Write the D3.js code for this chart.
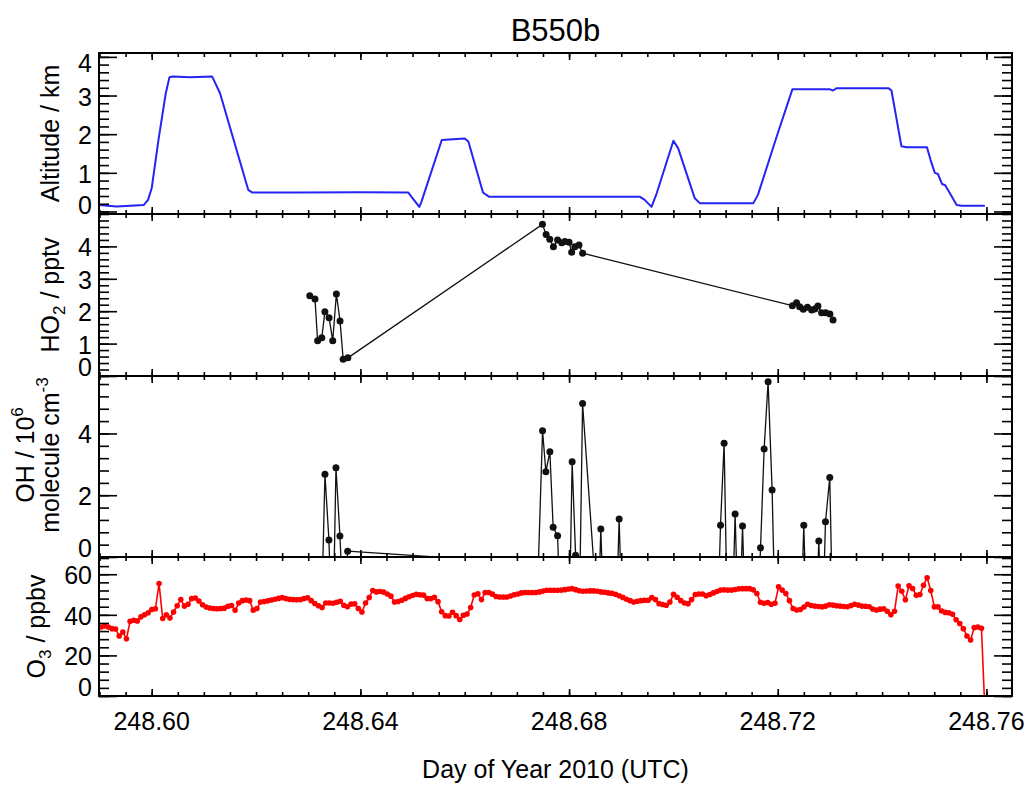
<!DOCTYPE html>
<html>
<head>
<meta charset="utf-8">
<script src="https://cdn.jsdelivr.net/npm/d3@7"></script>
<style>
  body { margin: 0; background: #fff; }
  svg { display: block; }
  text { font-family: "Liberation Sans", Arial, sans-serif; fill: #000; }
</style>
</head>
<body>
<svg id="chart" width="1032" height="785"></svg>
<script>
// Flight B550b: aircraft altitude, HO2, OH and O3 against day of year (UTC)

// Altitude track (day of year, km)
const altTime = [248.5899, 248.5933, 248.5985, 248.5993, 248.6000, 248.6013, 248.6027, 248.6034, 248.6041, 248.6073,
  248.6116, 248.6131, 248.6185, 248.6193, 248.6284, 248.6399, 248.6492, 248.6498, 248.6513, 248.6517,
  248.6556, 248.6600, 248.6607, 248.6635, 248.6647, 248.6936, 248.6945, 248.6958, 248.6968, 248.7000,
  248.7009, 248.7041, 248.7051, 248.7153, 248.7162, 248.7198, 248.7228, 248.7300, 248.7306, 248.7313,
  248.7412, 248.7418, 248.7437, 248.7447, 248.7486, 248.7493, 248.7501, 248.7507, 248.7515, 248.7521,
  248.7543, 248.7552, 248.7597];
const altKm = [0.17, 0.13, 0.17, 0.30, 0.60, 1.85, 3.06, 3.47, 3.49, 3.47,
  3.49, 3.06, 0.56, 0.49, 0.49, 0.50, 0.49, 0.38, 0.12, 0.25,
  1.85, 1.89, 1.81, 0.49, 0.38, 0.38, 0.30, 0.12, 0.47, 1.83,
  1.64, 0.34, 0.21, 0.21, 0.43, 1.94, 3.16, 3.16, 3.13, 3.19,
  3.19, 3.13, 1.69, 1.66, 1.66, 1.33, 1.00, 0.97, 0.71, 0.68,
  0.17, 0.15, 0.15];

// HO2 mixing ratio (pptv)
const ho2Time = [248.6303, 248.6313, 248.6318, 248.6326, 248.6332, 248.6340, 248.6347, 248.6354, 248.6361, 248.6367,
  248.6376, 248.6749, 248.6756, 248.6763, 248.6770, 248.6778, 248.6786, 248.6792, 248.6800, 248.6805,
  248.6811, 248.6819, 248.6826, 248.7228, 248.7236, 248.7242, 248.7249, 248.7257, 248.7265, 248.7271,
  248.7277, 248.7284, 248.7292, 248.7300, 248.7306];
const ho2Pptv = [2.48, 2.38, 1.09, 1.18, 1.98, 1.80, 1.09, 2.53, 1.70, 0.52,
  0.56, 4.68, 4.37, 4.22, 3.99, 4.20, 4.11, 4.15, 4.13, 3.82,
  3.99, 4.04, 3.79, 2.17, 2.26, 2.14, 2.06, 2.12, 2.04, 2.07,
  2.16, 1.95, 1.95, 1.91, 1.73];

// OH concentration (1e6 molecule cm-3); negative retrievals fall below the axis
const ohTime = [248.63240, 248.63321, 248.63397, 248.63468, 248.63532, 248.63608, 248.63681, 248.63756, 248.67412, 248.67492,
  248.67555, 248.67632, 248.67695, 248.67780, 248.67852, 248.67925, 248.67996, 248.68059, 248.68125, 248.68188,
  248.68259, 248.68481, 248.68538, 248.68609, 248.68680, 248.68889, 248.68960, 248.69031, 248.70832, 248.70903,
  248.70972, 248.71043, 248.71112, 248.71183, 248.71254, 248.71325, 248.71395, 248.71599, 248.71670, 248.71739,
  248.71815, 248.71892, 248.71963, 248.72428, 248.72499, 248.72570, 248.72716, 248.72787, 248.72848, 248.72915,
  248.72997, 248.73064];
const ohConc = [-3, 2.68, 0.55, -3, 2.89, 0.68, -2, 0.19, -0.22, 4.09,
  2.76, 3.41, 0.96, 0.69, -3, -3, -3, 3.08, 0.06, -3,
  4.97, -0.4, -3, 0.91, -3, -3, 1.23, -3, -3, 1.03,
  3.68, -3, -3, 1.39, -3, 1.00, -3, -3, 0.30, 3.50,
  5.67, 2.17, -3, -3, 1.03, -3, -3, 0.52, -3, 1.14,
  2.57, -3];

// O3 mixing ratio (ppbv), one-minute samples starting at o3Start
const o3Start = 248.5903;
const o3StepDays = 1 / 1440;
const o3Ppbv = [34.0, 34.5, 34.0, 33.2, 33.0, 29.6, 31.5, 28.2, 36.8, 37.3,
  37.0, 39.0, 40.0, 41.0, 42.6, 43.0, 55.4, 38.2, 40.0, 38.4,
  41.4, 44.5, 47.5, 44.3, 45.2, 48.0, 48.3, 46.8, 45.0, 43.8,
  43.4, 43.1, 43.0, 43.1, 43.3, 44.2, 44.6, 42.2, 45.8, 47.0,
  47.3, 47.0, 42.3, 43.1, 46.3, 46.6, 46.9, 47.3, 47.7, 48.1,
  48.5, 48.0, 47.6, 47.5, 47.4, 47.5, 48.0, 48.4, 47.0, 45.6,
  44.5, 43.6, 45.8, 45.8, 45.7, 46.2, 46.7, 44.7, 44.0, 45.3,
  45.4, 43.1, 41.4, 45.8, 48.5, 52.0, 51.3, 51.5, 51.2, 50.3,
  49.2, 46.3, 46.6, 47.2, 48.1, 48.9, 49.5, 50.1, 49.9, 49.7,
  48.0, 48.0, 48.6, 46.5, 41.5, 39.6, 39.4, 41.3, 39.6, 37.7,
  39.8, 40.4, 43.6, 49.8, 50.4, 47.5, 51.0, 51.0, 50.2, 49.0,
  48.8, 48.8, 48.8, 49.3, 49.9, 50.3, 50.8, 51.0, 51.0, 51.0,
  51.0, 51.3, 51.7, 52.1, 52.1, 52.1, 52.1, 52.2, 52.4, 52.7,
  52.9, 52.4, 51.9, 51.6, 51.7, 51.8, 51.8, 51.6, 51.3, 51.1,
  50.8, 50.6, 50.1, 49.4, 48.6, 47.7, 47.0, 46.3, 46.7, 47.0,
  47.2, 47.2, 48.5, 47.5, 45.5, 45.1, 44.7, 46.3, 50.1, 48.7,
  47.0, 45.8, 45.5, 47.5, 50.0, 50.3, 50.3, 49.4, 50.0, 50.8,
  51.5, 52.2, 52.3, 52.2, 52.2, 52.5, 52.8, 52.9, 52.9, 52.9,
  52.3, 50.5, 46.2, 45.7, 46.0, 45.2, 45.7, 53.8, 52.2, 50.5,
  47.0, 43.1, 42.4, 42.6, 43.8, 45.2, 44.6, 44.3, 44.1, 43.9,
  44.3, 45.0, 44.8, 44.5, 44.3, 44.1, 44.0, 44.6, 45.2, 44.8,
  44.3, 44.2, 44.0, 42.9, 42.4, 42.8, 43.0, 41.8, 40.0, 41.8,
  54.2, 51.6, 47.4, 54.3, 53.0, 49.6, 50.0, 54.6, 58.3, 52.0,
  43.9, 43.9, 41.9, 41.2, 41.0, 40.3, 37.6, 35.7, 33.2, 29.6,
  27.6, 33.7, 34.0, 33.4, -10];

// Axis tick labels
const xTickValues = [248.60, 248.64, 248.68, 248.72, 248.76];
const altTicks = [0, 1, 2, 3, 4];
const ho2Ticks = [0, 1, 2, 3, 4];
const ohTicks = [0, 2, 4];
const o3Ticks = [0, 20, 40, 60];

// ---------------------------------------------------------------------------
const svg = d3.select("#chart");
const left = 99, right = 1012;
const tickFont = 25;

const x = d3.scaleLinear().domain([248.5899, 248.7649]).range([left, right]);

const panels = [
  { id: "alt", top: 53,  bottom: 214, domain: [-0.065, 4.1], major: altTicks, minorStep: 0.2 },
  { id: "ho2", top: 214, bottom: 376, domain: [0, 5],        major: ho2Ticks, minorStep: 0.2 },
  { id: "oh",  top: 376, bottom: 557, domain: [0, 5.86],     major: ohTicks,  minorStep: 0.4 },
  { id: "o3",  top: 557, bottom: 696, domain: [0, 68.5],     major: o3Ticks,  minorStep: 4 }
];

function stepValues(d0, d1, step) {
  const out = [];
  for (let k = Math.ceil(d0 / step - 1e-9); k <= Math.floor(d1 / step + 1e-9); k++) out.push(+(k * step).toFixed(6));
  return out;
}

const xMinor = stepValues(x.domain()[0], x.domain()[1], 0.005);
const defs = svg.append("defs");

function styleAxis(sel) {
  sel.select(".domain").remove();
  sel.selectAll(".tick line").attr("stroke", "#000").attr("stroke-width", 1.6);
  sel.selectAll(".tick text").remove();
}

panels.forEach(p => {
  const y = d3.scaleLinear().domain(p.domain).range([p.bottom, p.top]);
  p.y = y;
  defs.append("clipPath").attr("id", "clip-" + p.id)
    .append("rect").attr("x", left).attr("y", p.top)
    .attr("width", right - left).attr("height", p.bottom - p.top);
  p.plot = svg.append("g").attr("clip-path", `url(#clip-${p.id})`);

  const yMinor = stepValues(p.domain[0], p.domain[1], p.minorStep);
  const axes = svg.append("g");
  // inward ticks on all four sides
  axes.append("g").attr("transform", `translate(${left},0)`)
    .call(d3.axisLeft(y).tickValues(yMinor).tickSize(-10)).call(styleAxis);
  axes.append("g").attr("transform", `translate(${left},0)`)
    .call(d3.axisLeft(y).tickValues(p.major).tickSize(-18)).call(styleAxis);
  axes.append("g").attr("transform", `translate(${right},0)`)
    .call(d3.axisRight(y).tickValues(yMinor).tickSize(-10)).call(styleAxis);
  axes.append("g").attr("transform", `translate(${right},0)`)
    .call(d3.axisRight(y).tickValues(p.major).tickSize(-18)).call(styleAxis);
  axes.append("g").attr("transform", `translate(0,${p.bottom})`)
    .call(d3.axisBottom(x).tickValues(xMinor).tickSize(-4)).call(styleAxis);
  axes.append("g").attr("transform", `translate(0,${p.bottom})`)
    .call(d3.axisBottom(x).tickValues(xTickValues).tickSize(-7)).call(styleAxis);
  axes.append("g").attr("transform", `translate(0,${p.top})`)
    .call(d3.axisTop(x).tickValues(xMinor).tickSize(-4)).call(styleAxis);
  axes.append("g").attr("transform", `translate(0,${p.top})`)
    .call(d3.axisTop(x).tickValues(xTickValues).tickSize(-7)).call(styleAxis);

  axes.append("rect").attr("x", left).attr("y", p.top)
    .attr("width", right - left).attr("height", p.bottom - p.top)
    .attr("fill", "none").attr("stroke", "#000").attr("stroke-width", 2);

  // y tick labels, kept inside the panel's vertical extent
  svg.append("g").selectAll("text").data(p.major).join("text")
    .attr("x", 92)
    .attr("y", v => Math.min(Math.max(y(v) + 1, p.top + 10), p.bottom - 9) + 9)
    .attr("text-anchor", "end")
    .style("font-size", tickFont + "px")
    .text(v => v);
});

const [pAlt, pHo2, pOh, pO3] = panels;

// Altitude
pAlt.plot.append("path")
  .datum(altTime.map((t, i) => ({ t, v: altKm[i] })))
  .attr("fill", "none").attr("stroke", "#2424f4").attr("stroke-width", 2)
  .attr("stroke-linejoin", "round")
  .attr("d", d3.line().x(d => x(d.t)).y(d => pAlt.y(d.v)));

// HO2 and OH: black lines with dots
function dotted(panel, times, vals, color, lineW, r) {
  const data = times.map((t, i) => ({ t, v: vals[i] }));
  panel.plot.append("path").datum(data)
    .attr("fill", "none").attr("stroke", color).attr("stroke-width", lineW)
    .attr("stroke-linejoin", "round")
    .attr("d", d3.line().x(d => x(d.t)).y(d => panel.y(d.v)));
  panel.plot.append("g").selectAll("circle").data(data).join("circle")
    .attr("cx", d => x(d.t)).attr("cy", d => panel.y(d.v)).attr("r", r)
    .attr("fill", color);
}
dotted(pHo2, ho2Time, ho2Pptv, "#111", 1.3, 3.5);
dotted(pOh, ohTime, ohConc, "#111", 1.3, 3.5);
dotted(pO3, o3Ppbv.map((v, i) => o3Start + i * o3StepDays), o3Ppbv, "#ff0000", 1.6, 2.8);

// x tick labels under the bottom panel
svg.append("g").selectAll("text").data(xTickValues).join("text")
  .attr("x", d => x(d)).attr("y", 730)
  .attr("text-anchor", "middle").style("font-size", tickFont + "px")
  .text(d => d.toFixed(2));

// Titles
svg.append("text").attr("x", (left + right) / 2).attr("y", 41)
  .attr("text-anchor", "middle").style("font-size", "31px").text("B550b");
svg.append("text").attr("x", (left + right) / 2).attr("y", 778)
  .attr("text-anchor", "middle").style("font-size", "25px").text("Day of Year 2010 (UTC)");

function yTitle(px, py, parts) {
  const t = svg.append("text").attr("transform", `translate(${px},${py}) rotate(-90)`)
    .attr("text-anchor", "middle").style("font-size", "25px");
  parts.forEach(([s, kind]) => {
    const sp = t.append("tspan").text(s);
    if (kind === "sub") sp.style("font-size", "17px").attr("dy", 6);
    else if (kind === "sup") sp.style("font-size", "17px").attr("dy", -11);
    else if (kind === "afterSub") sp.attr("dy", -6);
    else if (kind === "afterSup") sp.attr("dy", 11);
  });
}
yTitle(59, 133.5, [["Altitude / km"]]);
yTitle(59, 295, [["HO"], ["2", "sub"], [" / pptv", "afterSub"]]);
yTitle(34, 455, [["OH / 10"], ["6", "sup"]]);
yTitle(59, 455, [["molecule cm"], ["-3", "sup"]]);
yTitle(45, 626.5, [["O"], ["3", "sub"], [" / ppbv", "afterSub"]]);
</script>
</body>
</html>
